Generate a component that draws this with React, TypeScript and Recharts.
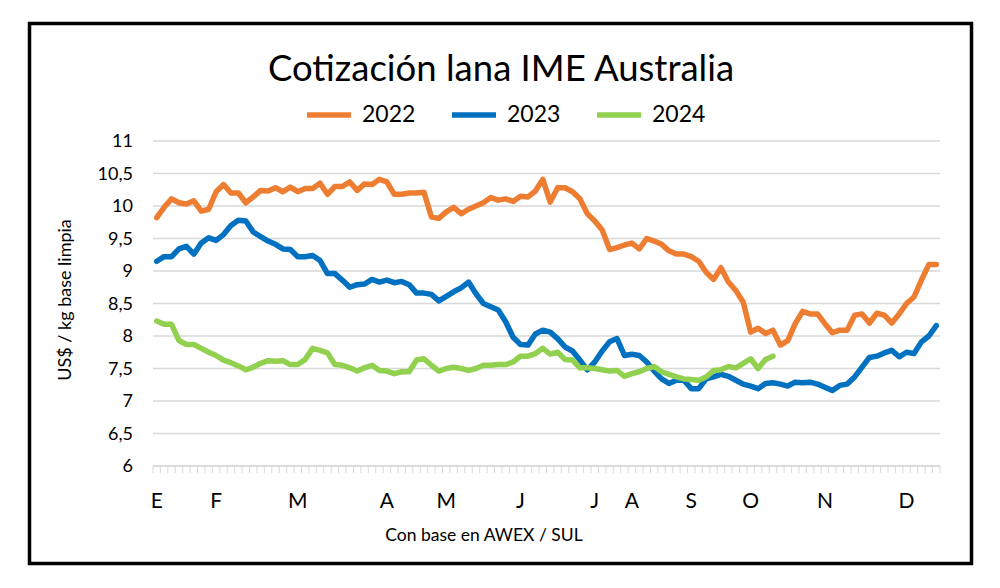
import { LineChart, Line, XAxis, YAxis, CartesianGrid } from 'recharts'

// Cotización semanal (por día de remate) US$/kg base limpia
const serie2022 = [
  9.82, 9.98, 10.11, 10.05, 10.03, 10.08, 9.92, 9.95, 10.22, 10.33,
  10.2, 10.2, 10.05, 10.14, 10.24, 10.23, 10.28, 10.22, 10.29, 10.22,
  10.27, 10.27, 10.35, 10.18, 10.3, 10.3, 10.37, 10.24, 10.34, 10.33,
  10.41, 10.37, 10.18, 10.18, 10.2, 10.2, 10.21, 9.83, 9.81, 9.91,
  9.98, 9.88, 9.95, 10.0, 10.05, 10.13, 10.09, 10.11, 10.07, 10.15,
  10.14, 10.23, 10.41, 10.06, 10.28, 10.28, 10.22, 10.11, 9.88, 9.77,
  9.63, 9.33, 9.36, 9.4, 9.43, 9.34, 9.5, 9.46, 9.41, 9.31,
  9.26, 9.26, 9.22, 9.15, 8.98, 8.87, 9.05, 8.83, 8.7, 8.52,
  8.06, 8.12, 8.04, 8.09, 7.86, 7.93, 8.19, 8.38, 8.34, 8.34,
  8.19, 8.05, 8.09, 8.09, 8.32, 8.34, 8.2, 8.35, 8.32, 8.2,
  8.34, 8.5, 8.6, 8.86, 9.1, 9.1,
]

const serie2023 = [
  9.15, 9.22, 9.22, 9.34, 9.38, 9.26, 9.43, 9.51, 9.47, 9.56,
  9.7, 9.78, 9.77, 9.6, 9.53, 9.46, 9.41, 9.34, 9.33, 9.22,
  9.22, 9.24, 9.16, 8.96, 8.96, 8.86, 8.75, 8.79, 8.8, 8.87,
  8.83, 8.86, 8.82, 8.84, 8.79, 8.66, 8.66, 8.64, 8.54, 8.61,
  8.68, 8.74, 8.83, 8.65, 8.5, 8.45, 8.4, 8.22, 7.98, 7.87,
  7.86, 8.03, 8.09, 8.06, 7.96, 7.83, 7.77, 7.63, 7.48, 7.6,
  7.77, 7.91, 7.96, 7.7, 7.72, 7.7, 7.6, 7.46, 7.34, 7.27,
  7.32, 7.32, 7.19, 7.19, 7.34, 7.37, 7.41, 7.38, 7.32, 7.26,
  7.23, 7.19, 7.27, 7.28, 7.26, 7.23, 7.29, 7.28, 7.29, 7.26,
  7.21, 7.16, 7.24, 7.26, 7.37, 7.52, 7.67, 7.69, 7.74, 7.78,
  7.68, 7.75, 7.73, 7.91, 8.0, 8.16,
]

const serie2024 = [
  8.23, 8.18, 8.18, 7.93, 7.87, 7.87, 7.81, 7.75, 7.7, 7.63,
  7.59, 7.54, 7.48, 7.52, 7.58, 7.62, 7.61, 7.62, 7.56, 7.56,
  7.64, 7.81, 7.78, 7.74, 7.56, 7.55, 7.51, 7.46, 7.51, 7.55,
  7.47, 7.46, 7.42, 7.45, 7.45, 7.63, 7.65, 7.55, 7.46, 7.5,
  7.52, 7.5, 7.47, 7.5, 7.55, 7.55, 7.56, 7.56, 7.6, 7.69,
  7.69, 7.73, 7.81, 7.72, 7.75, 7.64, 7.63, 7.51, 7.51, 7.5,
  7.48, 7.46, 7.47, 7.38, 7.42, 7.45, 7.5, 7.53, 7.45, 7.41,
  7.37, 7.34, 7.33, 7.32, 7.37, 7.47, 7.48, 7.53, 7.51, 7.58,
  7.65, 7.5, 7.64, 7.69,
]

// etiquetas de mes y el índice de remate donde aparecen
const monthLabels = ['E', 'F', 'M', 'A', 'M', 'J', 'J', 'A', 'S', 'O', 'N', 'D']
const monthIdx = [0, 8, 19, 31, 39, 49, 59, 64, 72, 80, 90, 101]

const yTicks = [6, 6.5, 7, 7.5, 8, 8.5, 9, 9.5, 10, 10.5, 11]

const series = [
  { key: 'y2022', name: '2022', color: '#ED7D31' },
  { key: 'y2023', name: '2023', color: '#0070C0' },
  { key: 'y2024', name: '2024', color: '#92D050' },
]

const N = serie2022.length
const data = serie2022.map((v, i) => ({
  i,
  y2022: v,
  y2023: serie2023[i],
  y2024: serie2024[i],
}))

// marcas menores entre cada categoría (como Excel)
const minorTicks = Array.from({ length: N + 1 }, (_, k) => k - 0.5)
const xTicks = [...minorTicks, ...monthIdx].sort((a, b) => a - b)

const FONT = 'Lato, "Open Sans", sans-serif'

const MonthTick = ({ x, y, payload }: any) => {
  const k = monthIdx.indexOf(payload.value)
  if (k < 0) {
    return <line x1={x} x2={x} y1={y} y2={y + 7} stroke="#d9d9d9" strokeWidth={1} />
  }
  return (
    <text x={x} y={y + 42} textAnchor="middle" fontSize={21} fill="#000" fontFamily={FONT}>
      {monthLabels[k]}
    </text>
  )
}

export default function App() {
  return (
    <div
      style={{
        position: 'absolute',
        left: 0,
        top: 0,
        width: 1000,
        height: 588,
        background: '#fff',
        fontFamily: FONT,
      }}
    >
      <LineChart
        width={1000}
        height={588}
        data={data}
        margin={{ top: 141, right: 60, bottom: 92, left: 93 }}
      >
        <CartesianGrid vertical={false} stroke="#d9d9d9" strokeWidth={1.3} />
        <XAxis
          dataKey="i"
          type="number"
          domain={[-0.5, N - 0.5]}
          ticks={xTicks}
          interval={0}
          height={30}
          tickSize={0}
          tickMargin={0}
          tickLine={false}
          axisLine={{ stroke: '#d9d9d9', strokeWidth: 1.3 }}
          tick={<MonthTick />}
        />
        <YAxis
          domain={[6, 11]}
          ticks={yTicks}
          width={60}
          axisLine={false}
          tickLine={false}
          tickSize={0}
          tickMargin={20}
          tick={{ fontSize: 18, fill: '#000', fontFamily: FONT }}
          tickFormatter={(v: number) => String(v).replace('.', ',')}
        />
        {series.map((s) => (
          <Line
            key={s.key}
            type="linear"
            dataKey={s.key}
            name={s.name}
            stroke={s.color}
            strokeWidth={5.5}
            strokeLinejoin="round"
            strokeLinecap="round"
            dot={false}
            activeDot={false}
            isAnimationActive={false}
          />
        ))}
      </LineChart>

      <svg
        width={1000}
        height={588}
        style={{ position: 'absolute', left: 0, top: 0, pointerEvents: 'none' }}
        fontFamily={FONT}
      >
        <rect x={29.5} y={23.5} width={942} height={540} fill="none" stroke="#000" strokeWidth={3.5} />
        <text x={501} y={81} textAnchor="middle" fontSize={36.5} fill="#000">
          Cotización lana IME Australia
        </text>
        {series.map((s, k) => {
          const x0 = 307 + k * 145
          return (
            <g key={s.key}>
              <line x1={x0} x2={x0 + 44} y1={115} y2={115} stroke={s.color} strokeWidth={5.5} />
              <text x={x0 + 55} y={122} fontSize={23} fill="#000">
                {s.name}
              </text>
            </g>
          )
        })}
        <text
          x={71}
          y={300}
          textAnchor="middle"
          fontSize={18}
          fill="#000"
          transform="rotate(-90, 71, 300)"
        >
          US$ / kg base limpia
        </text>
        <text x={484} y={541} textAnchor="middle" fontSize={17.5} fill="#000">
          Con base en AWEX / SUL
        </text>
      </svg>
    </div>
  )
}
